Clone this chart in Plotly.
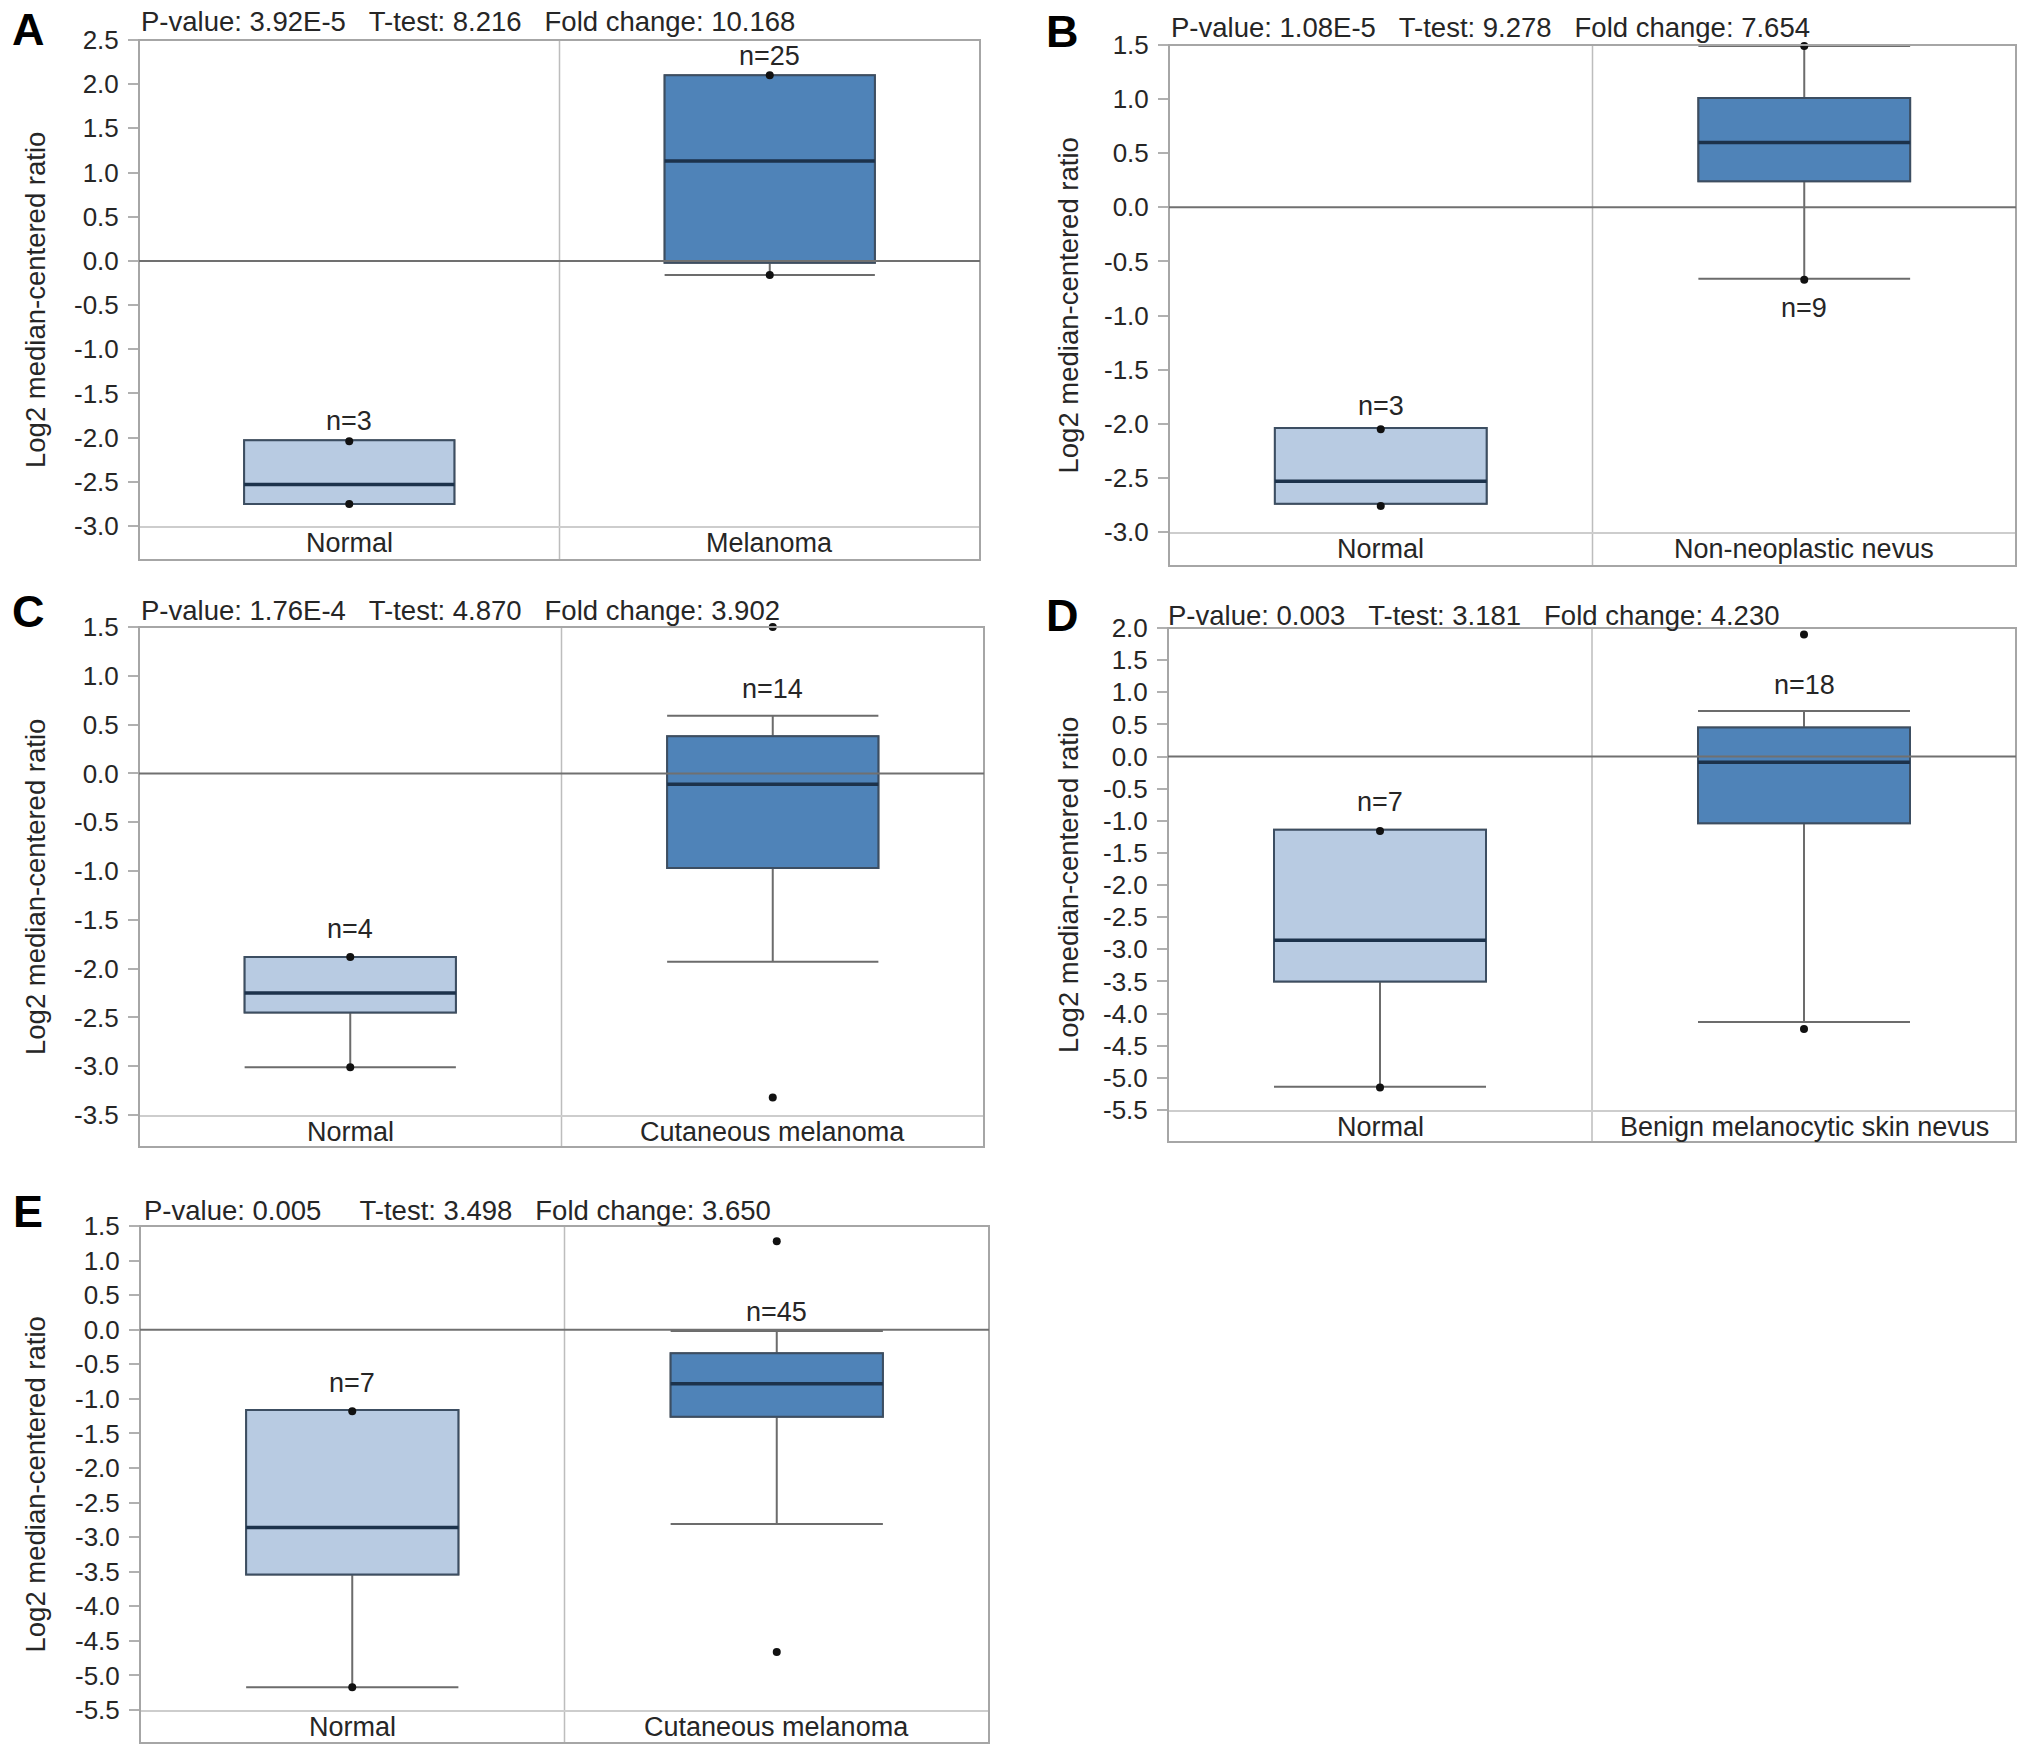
import numpy as np
import plotly.graph_objects as go

W, H = 2031, 1757
FONT = "Liberation Sans, Arial, sans-serif"

# ------------------------------------------------------------------ data
A_categories = ["Normal", "Melanoma"]
A_n = [3, 25]
A_q1 = [-2.75, -0.02]
A_median = [-2.53, 1.13]
A_q3 = [-2.03, 2.10]
A_whisker_low = [-2.75, -0.16]
A_whisker_high = [-2.03, 2.10]
A_min = [-2.75, -0.16]
A_max = [-2.04, 2.10]
A_stats = "P-value: 3.92E-5   T-test: 8.216   Fold change: 10.168"
A_yrange = [-3.0, 2.5]

B_categories = ["Normal", "Non-neoplastic nevus"]
B_n = [3, 9]
B_q1 = [-2.74, 0.24]
B_median = [-2.53, 0.60]
B_q3 = [-2.04, 1.01]
B_whisker_low = [-2.74, -0.66]
B_whisker_high = [-2.04, 1.49]
B_min = [-2.76, -0.67]
B_max = [-2.05, 1.49]
B_stats = "P-value: 1.08E-5   T-test: 9.278   Fold change: 7.654"
B_yrange = [-3.0, 1.5]

C_categories = ["Normal", "Cutaneous melanoma"]
C_n = [4, 14]
C_q1 = [-2.45, -0.97]
C_median = [-2.25, -0.11]
C_q3 = [-1.88, 0.38]
C_whisker_low = [-3.01, -1.93]
C_whisker_high = [-1.88, 0.59]
C_min = [-3.01, -3.32]
C_max = [-1.88, 1.50]
C_stats = "P-value: 1.76E-4   T-test: 4.870   Fold change: 3.902"
C_yrange = [-3.5, 1.5]

D_categories = ["Normal", "Benign melanocytic skin nevus"]
D_n = [7, 18]
D_q1 = [-3.50, -1.04]
D_median = [-2.86, -0.09]
D_q3 = [-1.14, 0.45]
D_whisker_low = [-5.14, -4.13]
D_whisker_high = [-1.14, 0.71]
D_min = [-5.15, -4.24]
D_max = [-1.16, 1.90]
D_stats = "P-value: 0.003   T-test: 3.181   Fold change: 4.230"
D_yrange = [-5.5, 2.0]

E_categories = ["Normal", "Cutaneous melanoma"]
E_n = [7, 45]
E_q1 = [-3.54, -1.26]
E_median = [-2.86, -0.78]
E_q3 = [-1.16, -0.34]
E_whisker_low = [-5.17, -2.81]
E_whisker_high = [-1.16, -0.02]
E_min = [-5.17, -4.66]
E_max = [-1.18, 1.28]
E_stats = "P-value: 0.005     T-test: 3.498   Fold change: 3.650"
E_yrange = [-5.5, 1.5]

Y_TITLE = "Log2 median-centered ratio"

data = [
    dict(letter="A", cats=A_categories, n=A_n, q1=A_q1, med=A_median, q3=A_q3,
         lo=A_whisker_low, hi=A_whisker_high, mn=A_min, mx=A_max, stats=A_stats, yr=A_yrange),
    dict(letter="B", cats=B_categories, n=B_n, q1=B_q1, med=B_median, q3=B_q3,
         lo=B_whisker_low, hi=B_whisker_high, mn=B_min, mx=B_max, stats=B_stats, yr=B_yrange),
    dict(letter="C", cats=C_categories, n=C_n, q1=C_q1, med=C_median, q3=C_q3,
         lo=C_whisker_low, hi=C_whisker_high, mn=C_min, mx=C_max, stats=C_stats, yr=C_yrange),
    dict(letter="D", cats=D_categories, n=D_n, q1=D_q1, med=D_median, q3=D_q3,
         lo=D_whisker_low, hi=D_whisker_high, mn=D_min, mx=D_max, stats=D_stats, yr=D_yrange),
    dict(letter="E", cats=E_categories, n=E_n, q1=E_q1, med=E_median, q3=E_q3,
         lo=E_whisker_low, hi=E_whisker_high, mn=E_min, mx=E_max, stats=E_stats, yr=E_yrange),
]

# ------------------------------------------------------------------ layout geometry (pixels)
# nshift: pixel offset of the "n=" label from the whisker end (positive = above upper whisker,
# negative = below lower whisker)
geom = [
    dict(left=139, right=980, top=40, pbot=526, fbot=560, letter=(28, 29), title=(139, 21.5), ytx=35,
         nshift=[19, 19]),
    dict(left=1169, right=2016, top=45, pbot=532, fbot=566, letter=(1062, 32), title=(1169, 27), ytx=1068,
         nshift=[22, -29]),
    dict(left=139, right=984, top=627, pbot=1115, fbot=1147, letter=(28, 612), title=(139, 610), ytx=35,
         nshift=[28, 27]),
    dict(left=1168, right=2016, top=628, pbot=1110, fbot=1142, letter=(1062, 615), title=(1166, 615), ytx=1068,
         nshift=[28, 26]),
    dict(left=140, right=989, top=1226, pbot=1710, fbot=1743, letter=(28, 1211), title=(142, 1210), ytx=35,
         nshift=[27, 19]),
]

NORMAL_FILL = "#b8cbe2"
TUMOR_FILL = "#4f83b8"
EDGE = "#3c4e62"
MEDIAN = "#1c324b"
WHISKER = "#6c6c6c"
FRAME = "#a6a6a6"
TEXT = "#262626"


def px(xp):
    return xp / W


def py(yp):
    return 1 - yp / H


fig = go.Figure()
annotations = []
shapes = []
layout = {}

for i, (d, g) in enumerate(zip(data, geom), start=1):
    xa = "x" if i == 1 else f"x{i}"
    ya = "y" if i == 1 else f"y{i}"
    common = dict(xaxis=xa, yaxis=ya, showlegend=False, hoverinfo="skip", width=0.5, boxpoints=False)
    for j, cat in enumerate(d["cats"]):
        fill = NORMAL_FILL if j == 0 else TUMOR_FILL
        # whiskers
        fig.add_trace(go.Box(x=[cat], q1=[d["q1"][j]], median=[d["med"][j]], q3=[d["q3"][j]],
                             lowerfence=[d["lo"][j]], upperfence=[d["hi"][j]], whiskerwidth=1,
                             fillcolor="rgba(0,0,0,0)", line=dict(color=WHISKER, width=2), **common))
        # box body
        fig.add_trace(go.Box(x=[cat], q1=[d["q1"][j]], median=[d["med"][j]], q3=[d["q3"][j]],
                             lowerfence=[d["q1"][j]], upperfence=[d["q3"][j]], whiskerwidth=0,
                             fillcolor=fill, line=dict(color=EDGE, width=2), **common))
        # median
        fig.add_trace(go.Box(x=[cat], q1=[d["med"][j]], median=[d["med"][j]], q3=[d["med"][j]],
                             lowerfence=[d["med"][j]], upperfence=[d["med"][j]], whiskerwidth=0,
                             fillcolor="rgba(0,0,0,0)", line=dict(color=MEDIAN, width=3.5), **common))
        # sample count label
        shift = g["nshift"][j]
        anchor_y = d["hi"][j] if shift > 0 else d["lo"][j]
        annotations.append(dict(xref=xa, yref=ya, x=cat, y=anchor_y, yshift=shift,
                                yanchor="middle", text=f"n={d['n'][j]}", showarrow=False,
                                font=dict(size=27, color=TEXT, family=FONT)))
        # category label inside the frame, under the plot area
        annotations.append(dict(xref=xa, yref=f"{ya} domain", x=cat, y=0, yshift=-17,
                                xanchor="center", yanchor="middle", text=cat, showarrow=False,
                                font=dict(size=27, color=TEXT, family=FONT)))
    # min / max points
    fig.add_trace(go.Scatter(x=d["cats"] + d["cats"], y=d["mn"] + d["mx"], mode="markers",
                             marker=dict(color="#111111", size=8), cliponaxis=False,
                             xaxis=xa, yaxis=ya, showlegend=False, hoverinfo="skip"))

    lo, hi = d["yr"]
    tickvals = [round(v, 1) for v in np.arange(lo, hi + 0.01, 0.5)]
    ticktext = [f"{v:.1f}" for v in tickvals]

    layout["xaxis" if i == 1 else f"xaxis{i}"] = dict(
        domain=[px(g["left"]), px(g["right"])], anchor=ya, type="category",
        categoryorder="array", categoryarray=d["cats"], range=[-0.5, 1.5],
        showgrid=False, zeroline=False, showline=True, linecolor="#cdcdcd", linewidth=2,
        ticks="", showticklabels=False, fixedrange=True, automargin=False)
    layout["yaxis" if i == 1 else f"yaxis{i}"] = dict(
        domain=[py(g["pbot"]), py(g["top"])], anchor=xa, range=[lo - 1e-6, hi + 1e-6],
        tickvals=tickvals, ticktext=ticktext, ticks="outside", ticklen=10, tickwidth=2,
        tickcolor="#b0b0b0", showgrid=False, zeroline=False, showline=False,
        tickfont=dict(size=26, color=TEXT, family=FONT), ticklabelstandoff=4, fixedrange=True,
        automargin=False)

    # frame
    shapes.append(dict(type="rect", xref="paper", yref="paper",
                       x0=px(g["left"]), x1=px(g["right"]), y0=py(g["fbot"]), y1=py(g["top"]),
                       line=dict(color=FRAME, width=2), fillcolor="rgba(0,0,0,0)", layer="above"))
    # category divider
    shapes.append(dict(type="line", xref=xa, yref="paper", x0=0.5, x1=0.5,
                       y0=py(g["fbot"]), y1=py(g["top"]), line=dict(color="#bdbdbd", width=1.5),
                       layer="below"))
    # zero line
    shapes.append(dict(type="line", xref=f"{xa} domain", yref=ya, x0=0, x1=1, y0=0, y1=0,
                       line=dict(color="#707070", width=2), layer="above"))

    # panel letter
    annotations.append(dict(xref="paper", yref="paper", x=px(g["letter"][0]), y=py(g["letter"][1]),
                            xanchor="center", yanchor="middle", text=f"<b>{d['letter']}</b>",
                            showarrow=False, font=dict(size=45, color="#000000", family=FONT)))
    # statistics title
    annotations.append(dict(xref="paper", yref="paper", x=px(g["title"][0]), y=py(g["title"][1]),
                            xanchor="left", yanchor="middle",
                            text=d["stats"].replace(" ", "\u00a0"),
                            showarrow=False, font=dict(size=27.5, color=TEXT, family=FONT)))
    # y title
    annotations.append(dict(xref="paper", yref="paper", x=px(g["ytx"]),
                            y=py((g["top"] + g["fbot"]) / 2), xanchor="center", yanchor="middle",
                            text=Y_TITLE, textangle=-90, showarrow=False,
                            font=dict(size=27.5, color=TEXT, family=FONT)))

fig.update_layout(width=W, height=H, margin=dict(l=0, r=0, t=0, b=0, pad=0, autoexpand=False),
                  autosize=False, paper_bgcolor="white", plot_bgcolor="white", boxmode="overlay",
                  annotations=annotations, shapes=shapes, font=dict(family=FONT, color=TEXT),
                  **layout)

POST = "document.documentElement.style.margin='0';document.body.style.margin='0';document.body.style.padding='0';"

fig.write_html("out.html", config={"displayModeBar": False}, post_script=POST)
